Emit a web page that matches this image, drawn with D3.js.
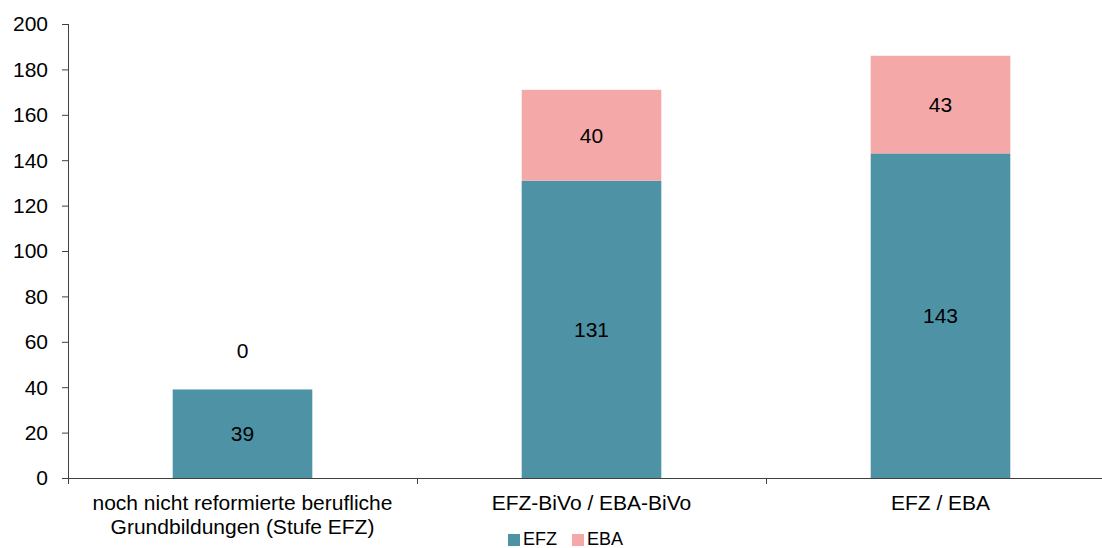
<!DOCTYPE html>
<html>
<head>
<meta charset="utf-8">
<script src="https://cdn.jsdelivr.net/npm/d3@7"></script>
<style>
  body { margin: 0; background: #fff; }
  svg { font-family: "Liberation Sans", Arial, sans-serif; }
</style>
</head>
<body>
<div id="chart"></div>
<script>
var categories = [
    ["noch nicht reformierte berufliche", "Grundbildungen (Stufe EFZ)"],
    ["EFZ-BiVo / EBA-BiVo"],
    ["EFZ / EBA"]
];
var efzValues = [39, 131, 143];
var ebaValues = [0, 40, 43];
var seriesNames = ["EFZ", "EBA"];
var yTicks = [0, 20, 40, 60, 80, 100, 120, 140, 160, 180, 200];

function init() {
    var colors = { EFZ: "#4e93a5", EBA: "#f4a9a8" };
    var width = 1102, height = 548;
    var margin = { left: 68, bottom: 478, top: 24 };
    var fontSize = "21px";

    var svg = d3.select("#chart").append("svg")
        .attr("width", width)
        .attr("height", height);

    var x = d3.scaleBand()
        .domain(d3.range(categories.length))
        .range([margin.left, margin.left + 3 * 349])
        .paddingInner(0.6)
        .paddingOuter(0.3);

    var y = d3.scaleLinear()
        .domain([0, 200])
        .range([margin.bottom, margin.top]);

    var axisColor = "#404040";

    // y axis
    svg.append("line")
        .attr("x1", margin.left + 0.5).attr("x2", margin.left + 0.5)
        .attr("y1", y(200)).attr("y2", y(0))
        .attr("stroke", axisColor);
    svg.selectAll(".ytick")
        .data(yTicks)
        .enter().append("line")
        .attr("x1", margin.left - 6).attr("x2", margin.left)
        .attr("y1", function (d) { return y(d) + 0.5; })
        .attr("y2", function (d) { return y(d) + 0.5; })
        .attr("stroke", axisColor);
    svg.selectAll(".ylabel")
        .data(yTicks)
        .enter().append("text")
        .attr("x", margin.left - 20)
        .attr("y", function (d) { return y(d); })
        .attr("dy", "0.35em")
        .attr("text-anchor", "end")
        .style("font-size", fontSize)
        .text(function (d) { return d; });

    // bars
    var stacks = categories.map(function (c, i) {
        return { i: i, efz: efzValues[i], eba: ebaValues[i] };
    });

    svg.selectAll(".efz")
        .data(stacks)
        .enter().append("rect")
        .attr("x", function (d) { return x(d.i); })
        .attr("width", x.bandwidth())
        .attr("y", function (d) { return y(d.efz); })
        .attr("height", function (d) { return y(0) - y(d.efz); })
        .attr("fill", colors.EFZ);

    svg.selectAll(".eba")
        .data(stacks)
        .enter().append("rect")
        .attr("x", function (d) { return x(d.i); })
        .attr("width", x.bandwidth())
        .attr("y", function (d) { return y(d.efz + d.eba); })
        .attr("height", function (d) { return y(d.efz) - y(d.efz + d.eba); })
        .attr("fill", colors.EBA);

    // x axis
    svg.append("line")
        .attr("x1", margin.left).attr("x2", width)
        .attr("y1", margin.bottom + 0.5).attr("y2", margin.bottom + 0.5)
        .attr("stroke", axisColor);
    svg.selectAll(".xtick")
        .data(d3.range(categories.length + 1))
        .enter().append("line")
        .attr("x1", function (d) { return margin.left + d * x.step() + 0.5; })
        .attr("x2", function (d) { return margin.left + d * x.step() + 0.5; })
        .attr("y1", margin.bottom).attr("y2", margin.bottom + 6)
        .attr("stroke", axisColor);

    // value labels
    svg.selectAll(".efzlabel")
        .data(stacks)
        .enter().append("text")
        .attr("x", function (d) { return x(d.i) + x.bandwidth() / 2; })
        .attr("y", function (d) { return y(d.efz / 2); })
        .attr("dy", "0.35em")
        .attr("text-anchor", "middle")
        .style("font-size", fontSize)
        .text(function (d) { return d.efz; });

    svg.selectAll(".ebalabel")
        .data(stacks)
        .enter().append("text")
        .attr("x", function (d) { return x(d.i) + x.bandwidth() / 2; })
        .attr("y", function (d) {
            return d.eba > 0 ? y(d.efz + d.eba / 2) : y(d.efz) - 39;
        })
        .attr("dy", "0.35em")
        .attr("text-anchor", "middle")
        .style("font-size", fontSize)
        .text(function (d) { return d.eba; });

    // category labels
    categories.forEach(function (lines, i) {
        var t = svg.append("text")
            .attr("x", x(i) + x.bandwidth() / 2)
            .attr("y", margin.bottom + 32)
            .attr("text-anchor", "middle")
            .style("font-size", fontSize);
        lines.forEach(function (l, j) {
            t.append("tspan")
                .attr("x", x(i) + x.bandwidth() / 2)
                .attr("dy", j === 0 ? 0 : 24)
                .text(l);
        });
    });

    // legend
    var legend = svg.append("g").attr("transform", "translate(508,534)");
    var items = legend.selectAll("g")
        .data(seriesNames)
        .enter().append("g")
        .attr("transform", function (d, i) { return "translate(" + (i * 64) + ",0)"; });
    items.append("rect")
        .attr("width", 12).attr("height", 12)
        .attr("fill", function (d) { return colors[d]; });
    items.append("text")
        .attr("x", 15).attr("y", 11)
        .style("font-size", "18px")
        .text(function (d) { return d; });
}

init();
</script>
</body>
</html>
